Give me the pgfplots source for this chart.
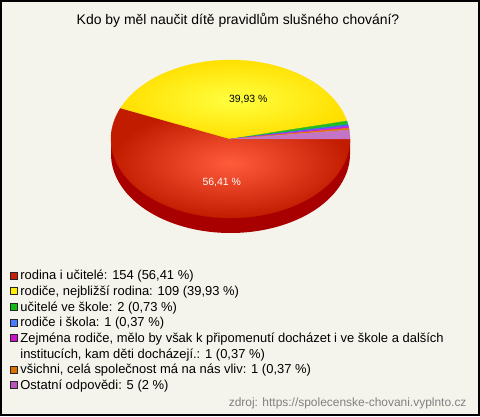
\documentclass[border=0pt]{standalone}
\usepackage{fontspec}
\setmainfont{Liberation Sans}
\usepackage{pgfplots}
\pgfplotsset{compat=1.18}
\usepackage{pgfplotstable}

\definecolor{bgc}{HTML}{F4F3EC}
\definecolor{sc0}{HTML}{D42A0A}
\definecolor{sc0in}{HTML}{FF5C3C}
\definecolor{sc0out}{HTML}{C21C00}
\definecolor{sc1in}{HTML}{FFFF40}
\definecolor{sc1out}{HTML}{FFE000}
\definecolor{sc2}{HTML}{22BB22}
\definecolor{sc3}{HTML}{4466EE}
\definecolor{sc4}{HTML}{CC22DD}
\definecolor{sc5}{HTML}{E07800}
\definecolor{sc6}{HTML}{C474C4}
\definecolor{sidec}{HTML}{A80000}
\definecolor{lg0}{HTML}{C82000}
\definecolor{lg1}{HTML}{FFEE00}
\definecolor{lg2}{HTML}{11BB11}
\definecolor{lg3}{HTML}{4A7AFF}
\definecolor{lg4}{HTML}{CC11CC}
\definecolor{lg5}{HTML}{E07000}
\definecolor{lg6}{HTML}{BB55BB}
\definecolor{srcgray}{HTML}{808080}

% answers: counts
\pgfplotstableread{
idx cnt
0 154
1 109
2 2
3 1
4 1
5 1
6 5
}\piedata

\def\tot{0}
\pgfplotsforeachungrouped \i in {0,...,6}{%
  \pgfplotstablegetelem{\i}{cnt}\of\piedata
  \pgfmathsetmacro\tot{\tot+\pgfplotsretval}%
}
\def\cum{0}
\pgfplotsforeachungrouped \i in {0,...,6}{%
  \pgfplotstablegetelem{\i}{cnt}\of\piedata
  \pgfmathsetmacro\nc{\cum+\pgfplotsretval/\tot*360}%
  \expandafter\xdef\csname angB\i\endcsname{\cum}%
  \expandafter\xdef\csname angA\i\endcsname{\nc}%
  \global\let\cum\nc
}

\def\cx{230.5}
\def\cy{277}
\def\rx{119.5}
\def\ry{79}
\def\dep{15}

\pgfplotsset{
  slice0/.style={inner color=sc0in, outer color=sc0out, draw=sc0out, line width=0.3bp},
  slice1/.style={inner color=sc1in, outer color=sc1out, draw=sc1out, line width=0.3bp},
  slice2/.style={fill=sc2, draw=sc2, line width=0.3bp},
  slice3/.style={fill=sc3, draw=sc3, line width=0.3bp},
  slice4/.style={fill=sc4, draw=sc4, line width=0.3bp},
  slice5/.style={fill=sc5, draw=sc5, line width=0.3bp},
  slice6/.style={fill=sc6, draw=sc6, line width=0.3bp},
}

\begin{document}
\begin{tikzpicture}
\begin{axis}[
  width=480bp, height=416bp, scale only axis,
  xmin=0, xmax=480, ymin=0, ymax=416,
  hide axis, clip=false,
  legend cell align=left,
  legend image code/.code={\draw[#1] (0bp,-2.5bp) rectangle (7bp,4.5bp);},
  legend style={at={(axis cs:10,146.2)}, anchor=north west, draw=none, fill=none,
    inner sep=0pt, outer sep=0pt, row sep=2.67bp, column sep=3bp,
    font=\fontsize{13}{15}\selectfont,
    nodes={inner sep=0pt, text height=10bp, text depth=3bp}},
]
\fill[bgc] (0,0) rectangle (480,416);

% 3D side of the pie
\addplot[forget plot, draw=none, fill=sidec, domain=180:360, samples=120]
  ({\cx+\rx*cos(x)},{\cy-\dep+\ry*sin(x)}) -- (350,\cy) -- (111,\cy) -- cycle;

% top faces
\pgfplotsforeachungrouped \i in {0,...,6}{%
  \edef\temp{\noexpand\addplot[forget plot, slice\i, domain=-\csname angA\i\endcsname:-\csname angB\i\endcsname, samples=90]
    ({\cx+\rx*cos(x)},{\cy+\ry*sin(x)}) -- (\cx,\cy) -- cycle;}%
  \temp
}

\node[font=\fontsize{10.5}{12}\selectfont] at (248.3,316.7) {39,93 \%};
\node[font=\fontsize{10.5}{12}\selectfont, text=white] at (221.7,233.7) {56,41 \%};

\node[anchor=base, font=\fontsize{14}{16}\selectfont] at (238,391) {Kdo by měl naučit dítě pravidlům slušného chování?};

\addlegendimage{fill=lg0, draw=black!85}
\addlegendentry{rodina i učitelé: 154 (56,41 \%)}
\addlegendimage{fill=lg1, draw=black!85}
\addlegendentry{rodiče, nejbližší rodina: 109 (39,93 \%)}
\addlegendimage{fill=lg2, draw=black!85}
\addlegendentry{učitelé ve škole: 2 (0,73 \%)}
\addlegendimage{fill=lg3, draw=black!85}
\addlegendentry{rodiče i škola: 1 (0,37 \%)}
\addlegendimage{fill=lg4, draw=black!85}
\addlegendentry{Zejména rodiče, mělo by však k připomenutí docházet i ve škole a dalších}
\addlegendimage{empty legend}
\addlegendentry{institucích, kam děti docházejí.: 1 (0,37 \%)}
\addlegendimage{fill=lg5, draw=black!85}
\addlegendentry{všichni, celá společnost má na nás vliv: 1 (0,37 \%)}
\addlegendimage{fill=lg6, draw=black!85}
\addlegendentry{Ostatní odpovědi: 5 (2 \%)}

\node[anchor=base east, text=srcgray, font=\fontsize{12}{14}\selectfont] at (470,10) {zdroj: https://spolecenske-chovani.vyplnto.cz};

\draw[black, line width=1.6bp] (0.8,0.8) rectangle (479.2,415.2);
\end{axis}
\end{tikzpicture}
\end{document}
